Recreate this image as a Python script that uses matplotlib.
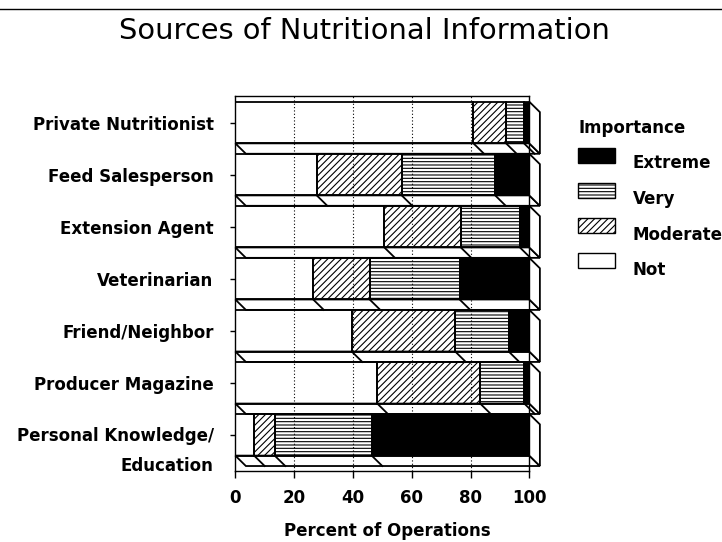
#!/usr/bin/env python3
# -*- coding: utf-8 -*-

"""Stacked 3D-style bar chart: sources of nutritional information"""

import numpy as np
import matplotlib
matplotlib.use("Agg")
import matplotlib.pyplot as plt
from matplotlib.patches import Polygon, Rectangle
from matplotlib.lines import Line2D
from matplotlib.transforms import ScaledTranslation

# Data (percent of operations), top to bottom
SOURCES = [
    "Private Nutritionist",
    "Feed Salesperson",
    "Extension Agent",
    "Veterinarian",
    "Friend/Neighbor",
    "Producer Magazine",
    "Personal Knowledge/\nEducation",
]
NOT_IMP = [81.0, 27.7, 50.7, 26.5, 39.6, 48.3, 6.4]
MODERATE = [11.1, 28.9, 26.0, 19.2, 35.2, 35.0, 7.0]
VERY = [6.1, 31.8, 20.1, 30.6, 18.2, 15.0, 33.0]
EXTREME = [1.8, 11.6, 3.2, 23.7, 7.0, 1.7, 53.6]

LEVELS = ["Not", "Moderate", "Very", "Extreme"]
LEGEND_ORDER = ["Extreme", "Very", "Moderate", "Not"]
STYLE = {
    "Not": dict(facecolor="none", hatch=None),
    "Moderate": dict(facecolor="none", hatch="/////"),
    "Very": dict(facecolor="none", hatch="-----"),
    "Extreme": dict(facecolor="black", hatch=None),
}

W, H = 722, 542
plt.rcParams["hatch.linewidth"] = 0.8
plt.rcParams["font.family"] = ["DejaVu Sans"]

fig = plt.figure(figsize=(W / 100, H / 100), dpi=100)
ax = fig.add_axes([235.3 / W, 1 - 470.7 / H, 294.0 / W, 374.7 / H])

series = {"Not": NOT_IMP, "Moderate": MODERATE, "Very": VERY, "Extreme": EXTREME}
n = len(SOURCES)
bar_h = 0.8      # front face height
dy = 0.2         # depth, vertical
dx = 3.6         # depth, horizontal (percent units)
tops = 7.09 - np.arange(n)
centers = tops - bar_h / 2

left = np.zeros(n)
for lev in LEVELS:
    vals = np.array(series[lev])
    ax.barh(centers, vals, left=left, height=bar_h, edgecolor="black",
            linewidth=1.3, zorder=3, **STYLE[lev])
    left = left + vals

# 3D faces (bottom and right side)
for i in range(n):
    yt = tops[i]
    yb = tops[i] - bar_h
    bottom = Polygon([(0, yb), (100, yb), (100 + dx, yb - dy), (dx, yb - dy)],
                     closed=True, facecolor="none", edgecolor="black",
                     linewidth=1.3, zorder=4, clip_on=False)
    ax.add_patch(bottom)
    side = Polygon([(100, yt), (100 + dx, yt - dy), (100 + dx, yb - dy), (100, yb)],
                   closed=True, facecolor="white", edgecolor="black",
                   linewidth=1.3, zorder=4, clip_on=False)
    ax.add_patch(side)
    cum = np.cumsum([series[lev][i] for lev in LEVELS])[:-1]
    for b in cum:
        ax.plot([b, b + dx], [yb, yb - dy], color="black", linewidth=1.3,
                zorder=5, clip_on=False)

ax.set_xlim(0, 100)
ax.set_ylim(0, 7.2)
ax.set_xticks(np.arange(0, 101, 20))
ax.set_yticks(centers)
ax.set_yticklabels(SOURCES)
for x in [20, 40, 60, 80]:
    ax.axvline(x, color="black", linestyle=(0, (1.0, 2.0)), linewidth=0.8, zorder=1)

ax.tick_params(axis="x", direction="out", length=5, width=1, pad=8,
               labelsize=12)
ax.tick_params(axis="y", direction="out", length=3.6, width=1, pad=12,
               labelsize=12)
for lab in ax.get_xticklabels() + ax.get_yticklabels():
    lab.set_fontweight("bold")
for sp in ax.spines.values():
    sp.set_linewidth(1.0)

last = ax.get_yticklabels()[-1]
last.set_linespacing(1.9)
last.set_transform(last.get_transform() + ScaledTranslation(0, -0.08, fig.dpi_scale_trans))

ax.set_xlabel("Percent of Operations", fontsize=12, fontweight="bold")
ax.xaxis.set_label_coords(0.516, -0.137)

# title and top rule
fig.text(364 / W, 1 - 39.3 / H, "Sources of Nutritional Information",
         ha="center", va="baseline", fontsize=20.8)
fig.add_artist(Line2D([0, 1], [1 - 9 / H, 1 - 9 / H], color="black",
                      linewidth=1.0, transform=fig.transFigure))

# legend
fig.text(578 / W, 1 - 132.7 / H, "Importance", ha="left", va="baseline",
         fontsize=12, fontweight="bold")
for k, lev in enumerate(LEGEND_ORDER):
    top = 148.3 + 35.0 * k
    st = STYLE[lev]
    fc = "white" if st["facecolor"] == "none" else st["facecolor"]
    rect = Rectangle((578 / W, 1 - (top + 14.5) / H), 36.5 / W, 14.5 / H,
                     transform=fig.transFigure, facecolor=fc,
                     edgecolor="black", linewidth=1.0, hatch=st["hatch"])
    fig.add_artist(rect)
    fig.text(632.7 / W, 1 - (168.5 + 35.5 * k) / H, lev, ha="left",
             va="baseline", fontsize=12, fontweight="bold")

fig.savefig("out.png", dpi=100)
